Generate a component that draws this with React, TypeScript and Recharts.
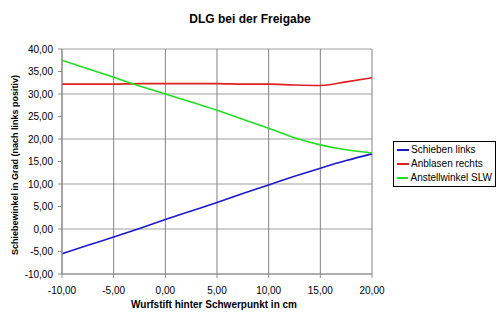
import {LineChart, Line, XAxis, YAxis, CartesianGrid} from 'recharts';

// Wurfstift position (cm) and the three angle curves (deg)
const positions = [-10, -7.5, -5, -2.5, 0, 2.5, 5, 7.5, 10, 12.5, 15, 17.5, 20];
const schiebenLinks = [-5.5, -3.6, -1.8, 0.1, 2.1, 4.0, 5.9, 7.9, 9.8, 11.7, 13.5, 15.2, 16.7];
const anblasenRechts = [32.2, 32.2, 32.2, 32.3, 32.3, 32.3, 32.3, 32.2, 32.2, 32.0, 31.9, 32.7, 33.6];
const anstellwinkel = [37.5, 35.6, 33.7, 31.8, 30.0, 28.2, 26.4, 24.4, 22.4, 20.3, 18.7, 17.6, 16.9];

const xTicks = [-10, -5, 0, 5, 10, 15, 20];
const yTicks = [-10, -5, 0, 5, 10, 15, 20, 25, 30, 35, 40];

const seriesNames = ['Schieben links', 'Anblasen rechts', 'Anstellwinkel SLW'];
const seriesColors = ['#1a1acc', '#dd2020', '#22dd22'];

const data = positions.map((x, i) => ({
    x,
    s0: schiebenLinks[i],
    s1: anblasenRechts[i],
    s2: anstellwinkel[i],
}));

const fmt = (v: number) => v.toFixed(2).replace('.', ',');
const font = 'Arial, "Liberation Sans", sans-serif';

function LegendBox() {
    return (
        <div style={{
            position: 'absolute', left: 393, top: 141, width: 95,
            border: '1px solid #000', background: '#fff', padding: '1px 3px',
            fontFamily: font, fontSize: 10, lineHeight: '14px', color: '#000', whiteSpace: 'nowrap',
        }}>
            {seriesNames.map((n, i) => (
                <div key={n} style={{display: 'flex', alignItems: 'center'}}>
                    <span style={{display: 'inline-block', width: 12, height: 2, background: seriesColors[i], marginRight: 2}}/>
                    {n}
                </div>
            ))}
        </div>
    );
}

export default function App() {
    return (
        <div style={{position: 'absolute', left: 0, top: 0, width: 500, height: 324, background: '#fff'}}>
            <LineChart width={500} height={324} data={data}
                       margin={{top: 49, right: 128, left: 0, bottom: 0}}>
                <text x={250} y={23} textAnchor="middle" fontFamily={font} fontSize={12} fontWeight="bold" fill="#000">
                    DLG bei der Freigabe
                </text>
                <text x={214} y={308} textAnchor="middle" fontFamily={font} fontSize={10} fontWeight="bold" fill="#000">
                    Wurfstift hinter Schwerpunkt in cm
                </text>
                <text x={18} y={165} textAnchor="middle" fontFamily={font} fontSize={9} fontWeight="bold" fill="#000"
                      transform="rotate(-90 18 165)">
                    Schiebewinkel in Grad (nach links positiv)
                </text>
                <CartesianGrid vertical={false} stroke="#a0a0a0" strokeWidth={1}/>
                <CartesianGrid horizontal={false} stroke="#808080" strokeWidth={1}/>
                <XAxis dataKey="x" type="number" domain={[-10, 20]} ticks={xTicks} tickFormatter={fmt}
                       height={50} stroke="#8c8c8c" tickSize={4} tickMargin={9}
                       tick={{fontFamily: font, fontSize: 10, fill: '#000'}}/>
                <YAxis type="number" domain={[-10, 40]} ticks={yTicks} tickFormatter={fmt}
                       width={62} stroke="#8c8c8c" tickSize={4} tickMargin={5}
                       tick={{fontFamily: font, fontSize: 10, fill: '#000'}}/>
                {seriesNames.map((n, i) => (
                    <Line key={n} name={n} type="monotone" dataKey={'s' + i} stroke={seriesColors[i]}
                          strokeWidth={1.6} dot={false} isAnimationActive={false}/>
                ))}
            </LineChart>
            <LegendBox/>
        </div>
    );
}
